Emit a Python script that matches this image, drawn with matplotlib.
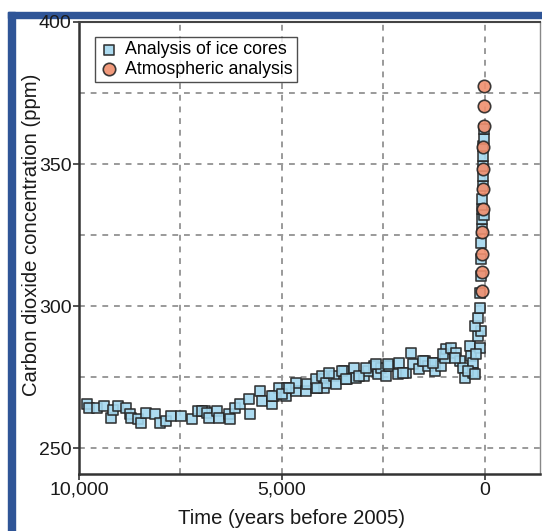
import numpy as np
import matplotlib.pyplot as plt
from matplotlib.patches import Rectangle

plt.rcParams["font.family"] = ["Liberation Sans", "DejaVu Sans"]

# ---------------------------------------
# Data
# ---------------------------------------

# ice core record: years before 2005, CO2 ppm
ice_years = [
    9810, 9745, 9562, 9374, 9208, 9166, 9042, 8837, 8755, 8713,
    8547, 8465, 8342, 8136, 8012, 7847, 7723, 7476, 7228, 7062,
    6899, 6973, 6849, 6807, 6602, 6560, 6312, 6271, 6147, 6023,
    5817, 5776, 5528, 5488, 5240, 5199, 5075, 4909, 4869, 4662,
    4662, 4414, 4374, 4167, 4167, 3961, 3961, 4003, 3919, 3714,
    3672, 3466, 3384, 3219, 3177, 2971, 2889, 2724, 2642, 2558,
    2434, 2352, 2147, 2105, 1940, 1815, 1776, 1610, 1486, 1404,
    1238, 1238, 1073, 991, 949, 5240, 4993, 4827, 4127, 3837,
    3507, 3424, 3095, 2930, 2682, 2394, 2023, 1528, 1280, 1032,
    826, 702, 620, 537, 496, 372, 330, 290, 290, 166,
    124, 83, 743, 413, 248, 207, 248, 166, 124, 110,
    100, 92, 85, 78, 72, 66, 60, 54, 48, 43,
    38, 33, 28, 24, 20,
]
ice_co2 = [
    265.5, 264.3, 264.3, 264.9, 260.8, 263.5, 264.9, 264.3, 262.0, 260.8,
    260.2, 259.0, 262.5, 262.0, 259.0, 259.6, 261.4, 261.4, 260.2, 263.1,
    263.1, 263.1, 262.5, 260.8, 263.1, 260.8, 262.0, 260.2, 264.3, 265.5,
    267.3, 262.0, 270.2, 266.7, 265.5, 268.4, 271.4, 268.4, 271.4, 270.2,
    273.1, 270.2, 272.5, 271.4, 274.3, 274.3, 271.4, 275.5, 273.1, 275.5,
    272.5, 277.2, 274.3, 278.4, 274.9, 275.5, 277.2, 279.0, 276.1, 278.4,
    275.5, 279.0, 276.1, 280.2, 276.6, 283.7, 279.6, 277.8, 280.7, 279.0,
    280.2, 277.2, 279.0, 281.9, 284.9, 268.4, 269.0, 271.4, 271.4, 276.7,
    277.2, 274.3, 275.5, 278.4, 279.6, 279.6, 276.7, 280.7, 280.2, 283.1,
    285.5, 283.7, 280.7, 278.4, 274.9, 286.0, 282.5, 280.2, 276.7, 289.5,
    285.5, 291.3, 281.9, 277.2, 276.1, 283.1, 293.0, 296.0, 299.5, 304.8,
    310.7, 316.5, 322.4, 327.1, 330.6, 334.2, 337.7, 342.4, 345.9, 349.4,
    352.9, 356.4, 358.8, 362.3, 332.0,
]

# direct atmospheric measurements
atm_years = [72, 68, 64, 60, 55, 50, 45, 40, 32, 26, 22]
atm_co2 = [305.4, 311.9, 318.3, 326.2, 334.2, 341.2, 348.2, 355.9, 363.5, 370.3, 377.5]

y_ticks = [250, 300, 350, 400]
x_ticks = [10000, 5000, 0]
x_tick_labels = ["10,000", "5,000", "0"]

# ---------------------------------------
# Plot
# ---------------------------------------

fig = plt.figure(figsize=(5.42, 5.31), dpi=100)
ax = fig.add_axes([0.1458, 0.1073, 0.8505, 0.8513])

ax.scatter(ice_years, ice_co2, marker="s", s=54, facecolor="#a4d8ef",
           edgecolor="#262626", linewidth=1.2, alpha=0.9, zorder=3,
           label="Analysis of ice cores")
ax.scatter(atm_years, atm_co2, marker="o", s=80, facecolor="#f08f6e",
           edgecolor="#262626", linewidth=1.2, alpha=0.9, zorder=4,
           label="Atmospheric analysis")

ax.set_xlim(10000, -1360)
ax.set_ylim(241, 400)

ax.set_xticks(x_ticks)
ax.set_xticklabels(x_tick_labels)
ax.set_xticks([7500, 2500], minor=True)
ax.set_yticks(y_ticks)
ax.set_yticks([275, 325, 375], minor=True)

ax.grid(True, which="both", color="#9a9a9a", linestyle=(0, (3, 3)), linewidth=1.4)
ax.set_axisbelow(True)

ax.tick_params(axis="both", which="major", labelsize=14, length=4, width=1.2,
               color="#333333", labelcolor="#1a1a1a", pad=1.5)
ax.tick_params(axis="both", which="minor", length=0)

for side in ["left", "bottom"]:
    ax.spines[side].set_linewidth(1.8)
    ax.spines[side].set_color("#333333")
ax.spines["top"].set_linewidth(1.5)
ax.spines["top"].set_color("#444444")
ax.spines["right"].set_linewidth(1.0)
ax.spines["right"].set_color("#888888")

ax.set_xlabel("Time (years before 2005)", fontsize=14.6, color="#1a1a1a")
ax.set_ylabel("Carbon dioxide concentration (ppm)", fontsize=14.6, color="#1a1a1a")
ax.xaxis.set_label_coords(0.46, -0.077)
ax.yaxis.set_label_coords(-0.083, 0.529)

leg = ax.legend(loc="upper left", bbox_to_anchor=(0.035, 0.967), fontsize=12.8,
                frameon=True, fancybox=False, borderpad=0.25, handletextpad=0.35,
                labelspacing=0.15, borderaxespad=0, handlelength=1.1)
leg.get_frame().set_edgecolor("#222222")
leg.get_frame().set_linewidth(1.0)

# blue frame around the figure, drawn under the axes
blue = "#2f5597"
fig.patches.append(Rectangle((8 / 542, 0), 7 / 542, 1 - 12 / 531,
                             transform=fig.transFigure, color=blue, zorder=-1))
fig.patches.append(Rectangle((8 / 542, 1 - 18 / 531), 1, 6 / 531,
                             transform=fig.transFigure, color=blue, zorder=-1))

plt.savefig("out.png", dpi=100)
